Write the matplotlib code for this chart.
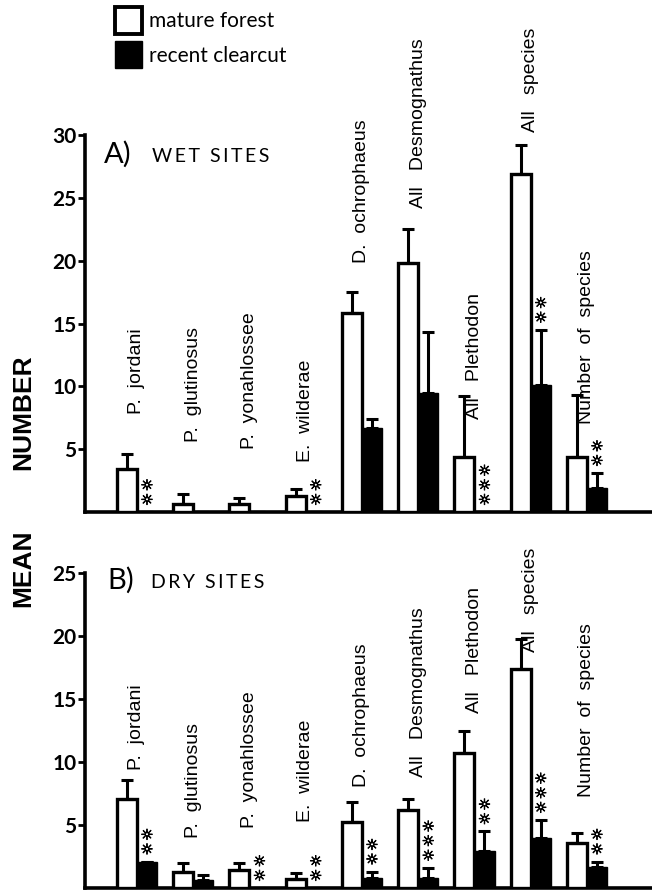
import matplotlib
matplotlib.use("Agg")
import matplotlib.pyplot as plt
from matplotlib.patches import Patch
import matplotlib.patheffects as pe
import numpy as np

# ---------------- data ----------------
categories = ["P.  jordani", "P.  glutinosus", "P.  yonahlossee", "E.  wilderae",
              "D.  ochrophaeus", "All   Desmognathus", "All   Plethodon",
              "All   species", "Number  of  species"]

wet_mature = [3.4, 0.6, 0.6, 1.3, 15.8, 19.8, 4.4, 26.9, 4.4]
wet_mature_err = [1.2, 0.8, 0.5, 0.5, 1.7, 2.7, 4.8, 2.3, 4.9]
wet_clearcut = [0, 0, 0, 0, 6.7, 9.5, 0, 10.1, 1.9]
wet_clearcut_err = [0, 0, 0, 0, 0.7, 4.8, 0, 4.4, 1.2]
wet_stars = [2, 0, 0, 2, 0, 0, 3, 2, 2]

dry_mature = [7.1, 1.3, 1.4, 0.7, 5.2, 6.2, 10.7, 17.4, 3.6]
dry_mature_err = [1.5, 0.7, 0.6, 0.5, 1.6, 0.9, 1.8, 2.4, 0.8]
dry_clearcut = [2.1, 0.6, 0, 0, 0.8, 0.8, 2.9, 4.0, 1.7]
dry_clearcut_err = [0, 0.4, 0, 0, 0.5, 0.8, 1.6, 1.4, 0.4]
dry_stars = [2, 0, 2, 2, 2, 3, 2, 3, 2]

wet_yticks = [5, 10, 15, 20, 25, 30]
dry_yticks = [5, 10, 15, 20, 25]

# label anchor heights (layout, data units)
wet_label_y = [7.8, 5.6, 5.0, 4.0, 19.8, 24.2, 7.4, 30.2, 7.0]
dry_label_y = [9.4, 4.0, 4.8, 5.2, 8.0, 8.8, 13.9, 18.7, 7.2]

# ---------------- layout ----------------
W, H = 652, 893
fig = plt.figure(figsize=(W / 100, H / 100), dpi=100)
fig.patch.set_facecolor("white")


def axrect(x0, x1, y_top, y_bot):
    return [x0 / W, 1 - y_bot / H, (x1 - x0) / W, (y_bot - y_top) / H]


ax1 = fig.add_axes(axrect(85, 652, 135, 512))
ax2 = fig.add_axes(axrect(85, 652, 573, 888))

LABEL_FONT = ["Liberation Sans", "DejaVu Sans"]
TITLE_FONT = ["Lato", "DejaVu Sans"]
bw = 0.356
x = np.arange(len(categories))
star_fx = [pe.withStroke(linewidth=0.6, foreground="black")]


def draw_panel(ax, mature, mature_err, clear, clear_err, stars, ymax, yticks, label_y):
    n = len(mature)
    ekw = dict(elinewidth=2.2, capthick=2.2, ecolor="black")
    ax.bar(x, mature, width=-bw, align="edge", facecolor="white", edgecolor="black",
           linewidth=2.4, yerr=[[0] * n, mature_err], capsize=4, error_kw=ekw, zorder=3)
    ax.bar(x, clear, width=bw, align="edge", facecolor="black", edgecolor="black",
           linewidth=1.0, yerr=[[0] * n, clear_err], capsize=4, error_kw=ekw, zorder=3)
    for i in range(n):
        top = clear[i] + clear_err[i]
        for k in range(stars[i]):
            ax.annotate("\u263c", xy=(x[i] + bw / 2, top), xytext=(0, 8.5 + 10.5 * k),
                        textcoords="offset points", ha="center", va="center",
                        fontsize=10.5, color="black", path_effects=star_fx,
                        family=["DejaVu Sans"], annotation_clip=False)
        ax.text(x[i], label_y[i], categories[i], rotation=90, ha="center", va="bottom",
                fontsize=14, family=LABEL_FONT, clip_on=False)
    ax.set_xlim(-0.924, 9.156)
    ax.set_ylim(0, ymax)
    ax.set_yticks(yticks)
    ax.set_xticks([])
    for s in ["top", "right"]:
        ax.spines[s].set_visible(False)
    for s in ["left", "bottom"]:
        ax.spines[s].set_linewidth(2.6)
    ax.tick_params(axis="y", direction="out", length=5, width=2, labelsize=15, pad=1)
    for lab in ax.get_yticklabels():
        lab.set_family(TITLE_FONT)
        lab.set_fontweight("bold")


draw_panel(ax1, wet_mature, wet_mature_err, wet_clearcut, wet_clearcut_err, wet_stars,
           30, wet_yticks, wet_label_y)
draw_panel(ax2, dry_mature, dry_mature_err, dry_clearcut, dry_clearcut_err, dry_stars,
           25, dry_yticks, dry_label_y)

# panel titles
fig.text(104 / W, 1 - 163 / H, "A)", fontsize=21, family=TITLE_FONT, va="baseline")
fig.text(152 / W, 1 - 162 / H, "W E T   S I T E S".replace(" ", "\u2009").replace("\u2009\u2009\u2009", "  "),
         fontsize=14, family=TITLE_FONT, va="baseline")
fig.text(107 / W, 1 - 589 / H, "B)", fontsize=21, family=TITLE_FONT, va="baseline")
fig.text(151 / W, 1 - 588 / H, "D R Y   S I T E S".replace(" ", "\u2009").replace("\u2009\u2009\u2009", "  "),
         fontsize=14, family=TITLE_FONT, va="baseline")

# y-axis label
fig.text(23 / W, 1 - 412 / H, "NUMBER", rotation=90, ha="center", va="center",
         fontsize=19, fontweight="bold", family=LABEL_FONT)
fig.text(23 / W, 1 - 568 / H, "MEAN", rotation=90, ha="center", va="center",
         fontsize=19, fontweight="bold", family=LABEL_FONT)

# legend
handles = [Patch(facecolor="white", edgecolor="black", linewidth=2.8, label="mature forest"),
           Patch(facecolor="black", edgecolor="black", label="recent clearcut")]
fig.legend(handles=handles, loc="upper left", bbox_to_anchor=(115 / W, 1 - 7 / H),
           frameon=False, prop={"family": TITLE_FONT, "size": 15},
           handlelength=1.3, handleheight=1.62, handletextpad=0.35, labelspacing=0.35,
           borderpad=0, borderaxespad=0)

fig.savefig("out.png", dpi=100, facecolor="white")
